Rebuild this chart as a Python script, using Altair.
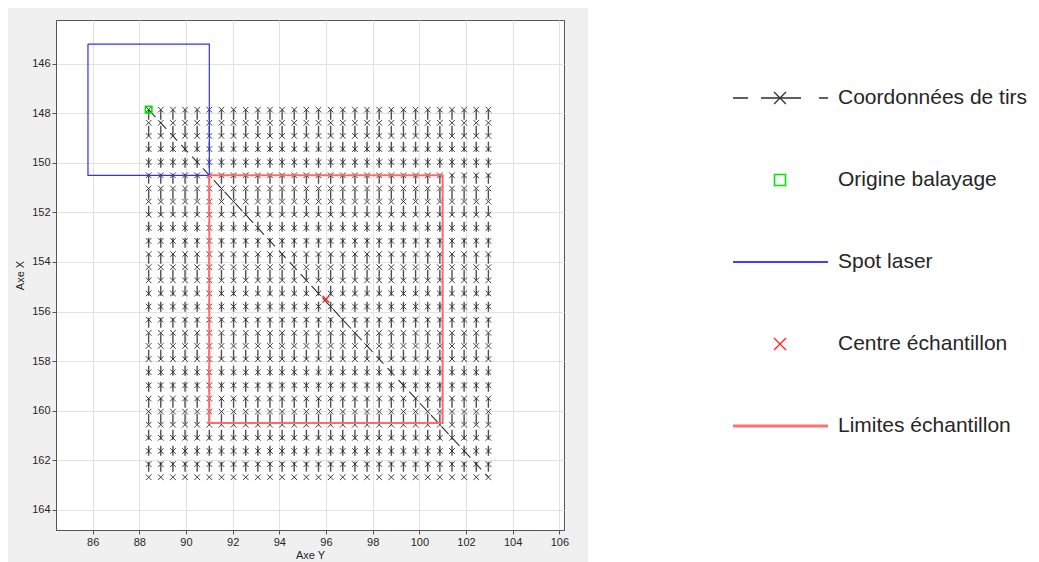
import altair as alt
import pandas as pd

# ---- data ----
# shot grid: horizontal positions (Axe Y) and vertical positions (Axe X)
COL_Y = [88.40, 88.92, 89.44, 89.96, 90.48, 91.00, 91.52, 92.04, 92.56, 93.08,
         93.60, 94.12, 94.64, 95.16, 95.68, 96.20, 96.72, 97.24, 97.76, 98.28,
         98.80, 99.32, 99.84, 100.36, 100.88, 101.40, 101.92, 102.44, 102.96]
ROW_X = [147.85, 148.38, 148.91, 149.44, 149.97, 150.50, 151.03, 151.56, 152.09, 152.62,
         153.15, 153.68, 154.21, 154.74, 155.27, 155.80, 156.33, 156.86, 157.39, 157.92,
         158.45, 158.98, 159.51, 160.04, 160.57, 161.10, 161.63, 162.16, 162.69]
SPOT_Y = [85.8, 91.0, 91.0, 85.8, 85.8]
SPOT_X = [145.2, 145.2, 150.5, 150.5, 145.2]
SAMPLE_Y = [91.0, 101.0, 101.0, 91.0, 91.0]
SAMPLE_X = [150.5, 150.5, 160.5, 160.5, 150.5]
ORIGIN_Y = [88.40]
ORIGIN_X = [147.85]
CENTER_Y = [96.0]
CENTER_X = [155.5]
XTICKS = [86, 88, 90, 92, 94, 96, 98, 100, 102, 104, 106]
YTICKS = [146, 148, 150, 152, 154, 156, 158, 160, 162, 164]
LEGEND_LABELS = ["Coordonnées de tirs", "Origine balayage", "Spot laser",
                 "Centre échantillon", "Limites échantillon"]

# ---- tables ----
grid = pd.DataFrame(
    [(ci, ri, cy, rx) for ci, cy in enumerate(COL_Y) for ri, rx in enumerate(ROW_X)],
    columns=["col", "row", "ay", "ax"])
diag = pd.DataFrame({"k": list(range(len(COL_Y))), "ay": COL_Y, "ax": ROW_X})
spot = pd.DataFrame({"k": list(range(len(SPOT_Y))), "ay": SPOT_Y, "ax": SPOT_X})
sample = pd.DataFrame({"k": list(range(len(SAMPLE_Y))), "ay": SAMPLE_Y, "ax": SAMPLE_X})
origin = pd.DataFrame({"ay": ORIGIN_Y, "ax": ORIGIN_X})
center = pd.DataFrame({"ay": CENTER_Y, "ax": CENTER_X})

XPATH = "M-1,-1L1,1M-1,1L1,-1"
LINE_COLOR = "#505050"
DASH = [10, 6]

xs = alt.Scale(domain=[84.43, 106.2], nice=False, zero=False)
ys = alt.Scale(domain=[144.23, 164.82], nice=False, zero=False, reverse=True)
xax = alt.Axis(values=XTICKS, title="Axe Y", titlePadding=2)
yax = alt.Axis(values=YTICKS, title="Axe X", titlePadding=6)


def X():
    return alt.X("ay:Q", scale=xs, axis=xax)


def Y():
    return alt.Y("ax:Q", scale=ys, axis=yax)


col_lines = alt.Chart(grid).mark_line(
    color=LINE_COLOR, strokeWidth=1.4, strokeDash=DASH
).encode(x=X(), y=Y(), detail="col:N", order="row:Q")

diag_line = alt.Chart(diag).mark_line(
    color="#333333", strokeWidth=1.1, strokeDash=DASH
).encode(x=X(), y=Y(), order="k:Q")

shots = alt.Chart(grid).mark_point(
    shape=XPATH, size=32, filled=False, color="#2a2a2a", strokeWidth=0.9, opacity=1
).encode(x=X(), y=Y())

spot_line = alt.Chart(spot).mark_line(color="#3030ff", strokeWidth=1.2).encode(
    x=X(), y=Y(), order="k:Q")

sample_line = alt.Chart(sample).mark_line(color="#ff6a6a", strokeWidth=2).encode(
    x=X(), y=Y(), order="k:Q")

origin_pt = alt.Chart(origin).mark_point(
    shape="square", size=42, filled=False, color="#00e600", strokeWidth=1.6, opacity=1
).encode(x=X(), y=Y())

center_pt = alt.Chart(center).mark_point(
    shape=XPATH, size=45, filled=False, color="#ff2020", strokeWidth=1.2, opacity=1
).encode(x=X(), y=Y())

# ---- hand-made legend (outside the plot area, on a white panel) ----
one = pd.DataFrame({"a": [0]})
legend_bg = alt.Chart(one).mark_rect(color="white").encode(
    x=alt.value(532), x2=alt.value(1100), y=alt.value(-30), y2=alt.value(600))

LEG_Y = [78, 160, 242, 324, 406]
LX0, LX1, LXM, LTX = 677, 772, 724, 782

leg = []
leg.append(alt.Chart(one).mark_rule(color="#606060", strokeWidth=2,
                                    strokeDash=[15, 13, 40, 18, 9]).encode(
    x=alt.value(LX0), x2=alt.value(LX1), y=alt.value(LEG_Y[0])))
leg.append(alt.Chart(one).mark_point(shape=XPATH, size=140, filled=False, color="#333333",
                                     strokeWidth=1.3, opacity=1).encode(
    x=alt.value(LXM), y=alt.value(LEG_Y[0])))
leg.append(alt.Chart(one).mark_point(shape="square", size=121, filled=False, color="#00e600",
                                     strokeWidth=1.6, opacity=1).encode(
    x=alt.value(LXM), y=alt.value(LEG_Y[1])))
leg.append(alt.Chart(one).mark_rule(color="#0000ff", strokeWidth=1.3).encode(
    x=alt.value(LX0), x2=alt.value(LX1), y=alt.value(LEG_Y[2])))
leg.append(alt.Chart(one).mark_point(shape=XPATH, size=144, filled=False, color="#ff2020",
                                     strokeWidth=1.3, opacity=1).encode(
    x=alt.value(LXM), y=alt.value(LEG_Y[3])))
leg.append(alt.Chart(one).mark_rule(color="#ff7070", strokeWidth=3).encode(
    x=alt.value(LX0), x2=alt.value(LX1), y=alt.value(LEG_Y[4])))
for lab, yy in zip(LEGEND_LABELS, LEG_Y):
    leg.append(alt.Chart(pd.DataFrame({"t": [lab]})).mark_text(
        align="left", baseline="middle", font="Liberation Sans", fontSize=21,
        color="#262626").encode(x=alt.value(LTX), y=alt.value(yy), text="t:N"))

chart = alt.layer(
    legend_bg, col_lines, diag_line, shots, spot_line, sample_line, origin_pt, center_pt, *leg
).properties(
    width=508, height=510,
    autosize=alt.AutoSizeParams(type="none"),
    padding={"left": 48, "top": 12, "right": 467, "bottom": 34},
).configure(
    background="#f0f0f0"
).configure_view(
    fill="white", stroke="#555555", strokeWidth=1
).configure_axis(
    labelFont="Liberation Sans", labelFontSize=11, labelColor="#262626",
    titleFont="Liberation Sans", titleFontSize=11, titleFontWeight="normal",
    titleColor="#262626", gridColor="#e2e2e2", gridWidth=1,
    domainColor="#555555", tickColor="#555555", tickSize=4, labelPadding=2
)

chart.save("out.html", embed_options={"renderer": "svg", "actions": False})
